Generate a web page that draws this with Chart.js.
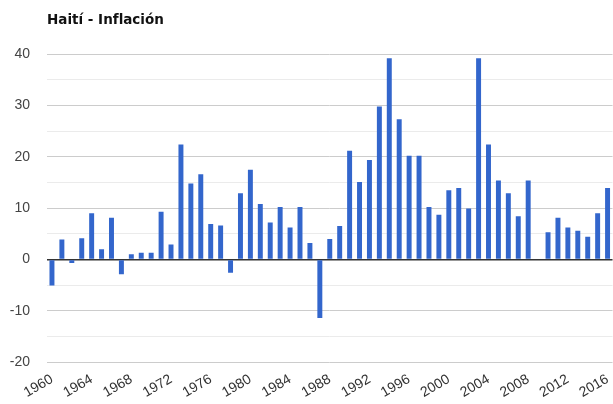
<!DOCTYPE html>
<html lang="es">
<head>
  <meta charset="UTF-8" />
  <title>Haití - Inflación</title>
  <script src="https://cdn.jsdelivr.net/npm/chart.js"></script>
  <style>
    html, body {
      margin: 0;
      padding: 0;
      background: #fff;
      overflow: hidden;
    }
    #wrap {
      width: 617px;
      height: 404px;
    }
  </style>
</head>
<body>
  <div id="wrap">
    <canvas id="inflChart" width="617" height="404"></canvas>
  </div>

  <script>
    const years = [];
    for (let y = 1960; y <= 2016; y++) years.push(String(y));

    // inflación anual (%)
    const inflation = [
      -5.1, 3.9, -0.7, 4.1, 9.0, 2.0, 8.1, -2.9, 1.0, 1.3,
      1.3, 9.3, 2.9, 22.4, 14.8, 16.6, 6.9, 6.6, -2.6, 12.9,
      17.5, 10.8, 7.2, 10.2, 6.2, 10.2, 3.2, -11.4, 4.0, 6.5,
      21.2, 15.1, 19.4, 29.8, 39.2, 27.3, 20.2, 20.2, 10.2, 8.7,
      13.5, 13.9, 9.9, 39.2, 22.4, 15.4, 12.9, 8.4, 15.4, 0.0,
      5.3, 8.1, 6.2, 5.6, 4.4, 9.0, 13.9
    ];

    const yTicks = [-20, -10, 0, 10, 20, 30, 40];

    const font = "Liberation Sans, Arial, sans-serif";

    new Chart(document.getElementById("inflChart").getContext("2d"), {
      type: "bar",
      data: {
        labels: years,
        datasets: [{
          label: "Inflación",
          data: inflation,
          backgroundColor: "#3366cc",
          borderWidth: 0,
          barPercentage: 0.5,
          categoryPercentage: 1.0
        }]
      },
      options: {
        responsive: false,
        animation: false,
        layout: { padding: 0 },
        plugins: {
          legend: { display: false },
          tooltip: { enabled: false },
          title: {
            display: true,
            fullSize: false,
            text: "Haití - Inflación",
            align: "start",
            color: "#111",
            font: { family: "DejaVu Sans, sans-serif", size: 13.5, weight: "bold", lineHeight: 1.2 },
            padding: { top: 12, bottom: 26 }
          }
        },
        scales: {
          x: {
            offset: true,
            grid: { display: false },
            border: { display: false },
            afterFit: s => { s.height = 42; },
            ticks: {
              autoSkip: false,
              maxRotation: 30,
              minRotation: 30,
              padding: 1,
              color: "#333",
              font: { family: font, size: 14 },
              callback: function (v, i) {
                return (i % 4 === 0) ? years[i] : "";
              }
            }
          },
          y: {
            min: -20,
            max: 40,
            afterFit: s => { s.width = 47; },
            border: { display: false },
            grid: {
              drawTicks: false,
              color: ctx => {
                const v = ctx.tick.value;
                if (v === 0) return "#333";
                return yTicks.includes(v) ? "#cccccc" : "#ebebeb";
              },
              lineWidth: ctx => (ctx.tick.value === 0 ? 1.5 : 1)
            },
            ticks: {
              stepSize: 5,
              padding: 17,
              color: "#444",
              font: { family: font, size: 14 },
              callback: v => (yTicks.includes(v) ? String(v) : "")
            }
          }
        }
      }
    });
  </script>
</body>
</html>
